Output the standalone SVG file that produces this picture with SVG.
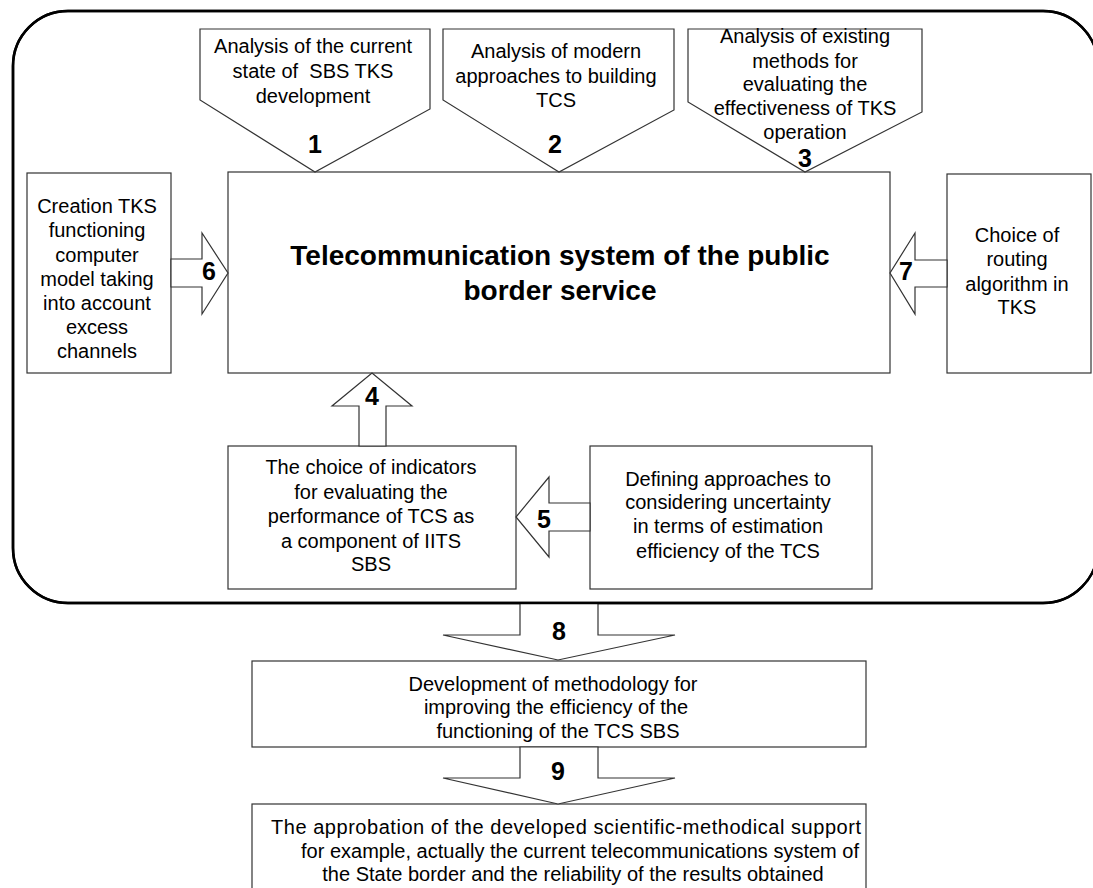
<svg xmlns="http://www.w3.org/2000/svg" width="1093" height="888" viewBox="0 0 1093 888">
<style>
.frame{fill:none;stroke:#000;stroke-width:2.5}
.box{fill:#fff;stroke:#333;stroke-width:1.2}
.arr{fill:#fff;stroke:#333;stroke-width:1.2;stroke-linejoin:miter}
.t{font-family:"Liberation Sans",Arial,sans-serif;font-size:20px;fill:#000;text-anchor:middle;white-space:pre}
.title{font-family:"Liberation Sans",Arial,sans-serif;font-size:28px;font-weight:bold;fill:#000;text-anchor:middle}
.num{font-family:"Liberation Sans",Arial,sans-serif;font-size:25px;font-weight:bold;fill:#000;text-anchor:middle}
</style>
<rect width="1093" height="888" fill="#fff"/>
<rect class="frame" x="13" y="11" width="1085" height="592" rx="55" ry="55"/>

<g id="node-center">
<rect class="box" x="228" y="172" width="662" height="201"/>
<text class="title" x="560" y="265">Telecommunication system of the public</text>
<text class="title" x="560" y="300">border service</text>
</g>

<g id="node-1">
<polygon class="arr" points="200,29 430,29 430,109 315,172 200,100"/>
<text class="t" x="313" y="53">Analysis of the current</text>
<text class="t" x="313" y="78">state of  SBS TKS</text>
<text class="t" x="313" y="103">development</text>
<text class="num" x="315" y="153">1</text>
</g>

<g id="node-2">
<polygon class="arr" points="443,29 674,29 674,110 559,172 443,100"/>
<text class="t" x="556" y="58">Analysis of modern</text>
<text class="t" x="556" y="83">approaches to building</text>
<text class="t" x="556" y="107">TCS</text>
<text class="num" x="555" y="153">2</text>
</g>

<g id="node-3">
<polygon class="arr" points="688,29 922,29 922,112 805,172 688,102"/>
<text class="t" x="805" y="43">Analysis of existing</text>
<text class="t" x="805" y="68">methods for</text>
<text class="t" x="805" y="91">evaluating the</text>
<text class="t" x="805" y="115">effectiveness of TKS</text>
<text class="t" x="805" y="139">operation</text>
<text class="num" x="805" y="167">3</text>
</g>

<g id="node-left">
<rect class="box" x="27" y="173" width="144" height="200"/>
<text class="t" x="97" y="213">Creation TKS</text>
<text class="t" x="97" y="237">functioning</text>
<text class="t" x="97" y="262">computer</text>
<text class="t" x="97" y="286">model taking</text>
<text class="t" x="97" y="310">into account</text>
<text class="t" x="97" y="334">excess</text>
<text class="t" x="97" y="358">channels</text>
</g>

<g id="node-right">
<rect class="box" x="947" y="174" width="144" height="199"/>
<text class="t" x="1017" y="242">Choice of</text>
<text class="t" x="1017" y="266">routing</text>
<text class="t" x="1017" y="291">algorithm in</text>
<text class="t" x="1017" y="314">TKS</text>
</g>

<g id="node-choice">
<rect class="box" x="228" y="446" width="288" height="143"/>
<text class="t" x="371" y="474">The choice of indicators</text>
<text class="t" x="371" y="499">for evaluating the</text>
<text class="t" x="371" y="523">performance of TCS as</text>
<text class="t" x="371" y="548">a component of IITS</text>
<text class="t" x="371" y="571">SBS</text>
</g>

<g id="node-defining">
<rect class="box" x="590" y="446" width="282" height="143"/>
<text class="t" x="728" y="486">Defining approaches to</text>
<text class="t" x="728" y="509">considering uncertainty</text>
<text class="t" x="728" y="533">in terms of estimation</text>
<text class="t" x="728" y="558">efficiency of the TCS</text>
</g>

<g id="node-development">
<rect class="box" x="252" y="661" width="614" height="86"/>
<text class="t" x="553" y="691">Development of methodology for</text>
<text class="t" x="556" y="714">improving the efficiency of the</text>
<text class="t" x="558" y="738">functioning of the TCS SBS</text>
</g>

<g id="node-approbation">
<rect class="box" x="252" y="804" width="614" height="90"/>
<text class="t" x="566" y="834" textLength="590" lengthAdjust="spacing">The approbation of the developed scientific-methodical support</text>
<text class="t" x="580" y="858">for example, actually the current telecommunications system of</text>
<text class="t" x="573" y="881">the State border and the reliability of the results obtained</text>
</g>

<g id="connectors">
<polygon class="arr" points="171,259 202,259 202,233 228,273 202,314 202,287 171,287"/>
<text class="num" x="209" y="280">6</text>
<polygon class="arr" points="947,260 915,260 915,233 890,273 915,314 915,287 947,287"/>
<text class="num" x="906" y="280">7</text>
<polygon class="arr" points="359,446 359,406 332,406 372,373 412,406 386,406 386,446"/>
<text class="num" x="372" y="405">4</text>
<polygon class="arr" points="590,503 549,503 549,477 516,517 549,557 549,531 590,531"/>
<text class="num" x="544" y="528">5</text>
<polygon class="arr" points="520,603 520,635 443,635 558,660 675,635 598,635 598,603"/>
<text class="num" x="559" y="640">8</text>
<polygon class="arr" points="520,747 520,778 443,778 558,804 675,778 598,778 598,747"/>
<text class="num" x="558" y="780">9</text>
</g>
<rect class="frame" x="13" y="11" width="1085" height="592" rx="55" ry="55" fill="none"/>
</svg>
